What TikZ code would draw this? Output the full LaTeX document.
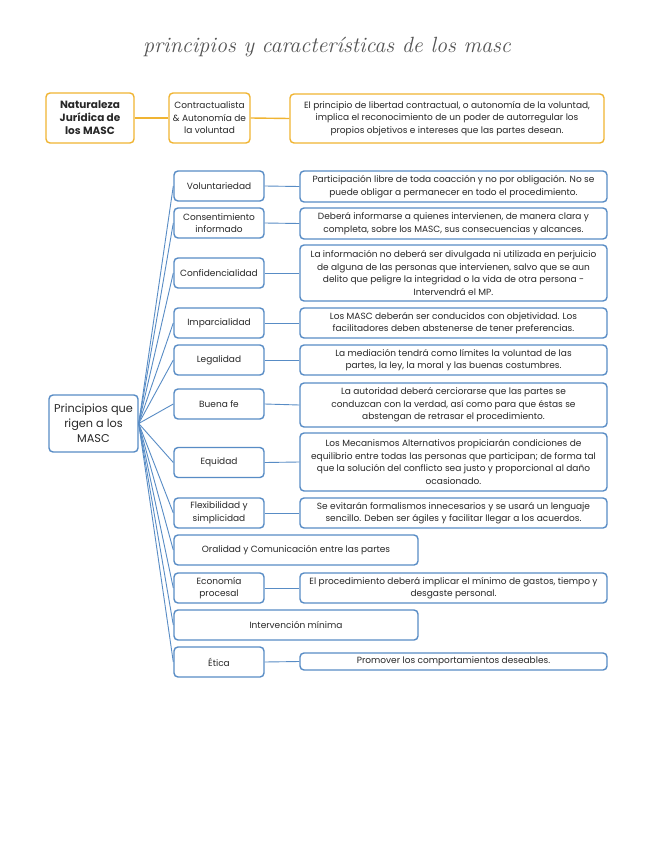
\documentclass[tikz,border=0pt]{standalone}
\usepackage{fontspec}
\setmainfont{Poppins}
\newfontfamily\titlefont{Latin Modern Roman}
\definecolor{azul}{RGB}{88,140,197}
\definecolor{ambar}{RGB}{240,180,50}
\definecolor{tinta}{RGB}{40,40,40}
\tikzset{
  caja/.style={draw=azul,line width=1.4pt,rounded corners=4pt,fill=white,inner sep=1.5pt,
    align=center,text=tinta,font=\fontsize{9}{12.6}\selectfont},
  principio/.style={caja,minimum width=90pt,minimum height=30pt},
  ancho/.style={caja,minimum width=244pt,minimum height=30pt},
  detalle/.style={caja,minimum width=307pt},
  raiz/.style={caja,minimum width=89pt,minimum height=57pt,font=\fontsize{11.3}{15}\selectfont},
  amarilla/.style={caja,draw=ambar,minimum height=50pt},
  rama/.style={draw=azul,line width=0.9pt},
  liga/.style={draw=ambar,line width=1.4pt}
}
\begin{document}
\begin{tikzpicture}[x=1pt,y=-1pt]
\useasboundingbox[fill=white] (0,0) rectangle (655,848);

% titulo
\node[text=tinta!80,font=\titlefont\itshape\fontsize{22}{24}\selectfont] (titulo) at (327,47) {principios y características de los masc};

% naturaleza juridica
\node[amarilla,minimum width=88pt,font=\bfseries\fontsize{10.5}{13}\selectfont] (nat) at (90,118) {Naturaleza\\Jurídica de\\los MASC};
\node[amarilla,minimum width=81pt] (contr) at (209.5,118) {Contractualista\\\& Autonomía de\\la voluntad};
\node[amarilla,minimum width=314pt,minimum height=49pt] (libertad) at (447,118.5) {El principio de libertad contractual, o autonomía de la voluntad,\\implica el reconocimiento de un poder de autorregular los\\propios objetivos e intereses que las partes desean.};
\draw[liga] (nat.east) -- (contr.west);
\draw[liga] (contr.east) -- (libertad.west);

% principios
\node[raiz] (raiz) at (93.5,423.5) {Principios que\\rigen a los\\MASC};

\node[principio] (vol) at (219,186) {Voluntariedad};
\node[principio] (cons) at (219,223) {Consentimiento\\informado};
\node[principio] (conf) at (219,273) {Confidencialidad};
\node[principio] (imp) at (219,323) {Imparcialidad};
\node[principio] (leg) at (219,360) {Legalidad};
\node[principio] (buena) at (219,404) {Buena fe};
\node[principio] (equi) at (219,462.5) {Equidad};
\node[principio] (flex) at (219,513) {Flexibilidad y\\simplicidad};
\node[ancho] (oral) at (296,550) {Oralidad y Comunicación entre las partes};
\node[principio] (econ) at (219,588) {Economía\\procesal};
\node[ancho] (inter) at (296,625) {Intervención mínima};
\node[principio] (etica) at (219,662) {Ética};

\node[detalle,minimum height=31pt] (dvol) at (453.5,186.5) {Participación libre de toda coacción y no por obligación. No se\\puede obligar a permanecer en todo el procedimiento.};
\node[detalle,minimum height=31pt] (dcons) at (453.5,223.5) {Deberá informarse a quienes intervienen, de manera clara y\\completa, sobre los MASC, sus consecuencias y alcances.};
\node[detalle,minimum height=56pt] (dconf) at (453.5,273) {La información no deberá ser divulgada ni utilizada en perjuicio\\de alguna de las personas que intervienen, salvo que se aun\\delito que peligre la integridad o la vida de otra persona -\\Intervendrá el MP.};
\node[detalle,minimum height=30pt] (dimp) at (453.5,323) {Los MASC deberán ser conducidos con objetividad. Los\\facilitadores deben abstenerse de tener preferencias.};
\node[detalle,minimum height=30pt] (dleg) at (453.5,360) {La mediación tendrá como límites la voluntad de las\\partes, la ley, la moral y las buenas costumbres.};
\node[detalle,minimum height=44pt] (dbuena) at (453.5,405) {La autoridad deberá cerciorarse que las partes se\\conduzcan con la verdad, así como para que éstas se\\abstengan de retrasar el procedimiento.};
\node[detalle,minimum height=58pt] (dequi) at (453.5,462) {Los Mecanismos Alternativos propiciarán condiciones de\\equilibrio entre todas las personas que participan; de forma tal\\que la solución del conflicto sea justo y proporcional al daño\\ocasionado.};
\node[detalle,minimum height=30pt] (dflex) at (453.5,513) {Se evitarán formalismos innecesarios y se usará un lenguaje\\sencillo. Deben ser ágiles y facilitar llegar a los acuerdos.};
\node[detalle,minimum height=30pt] (decon) at (453.5,588) {El procedimiento deberá implicar el mínimo de gastos, tiempo y\\desgaste personal.};
\node[detalle,minimum height=17pt] (detica) at (453.5,661.5) {Promover los comportamientos deseables.};

\foreach \p in {vol,cons,conf,imp,leg,buena,equi,flex,oral,econ,inter,etica}
  \draw[rama] (raiz.east) -- (\p.west);
\foreach \p in {vol,cons,conf,imp,leg,buena,equi,flex,econ,etica}
  \draw[rama] (\p.east) -- (d\p.west);
\end{tikzpicture}
\end{document}
